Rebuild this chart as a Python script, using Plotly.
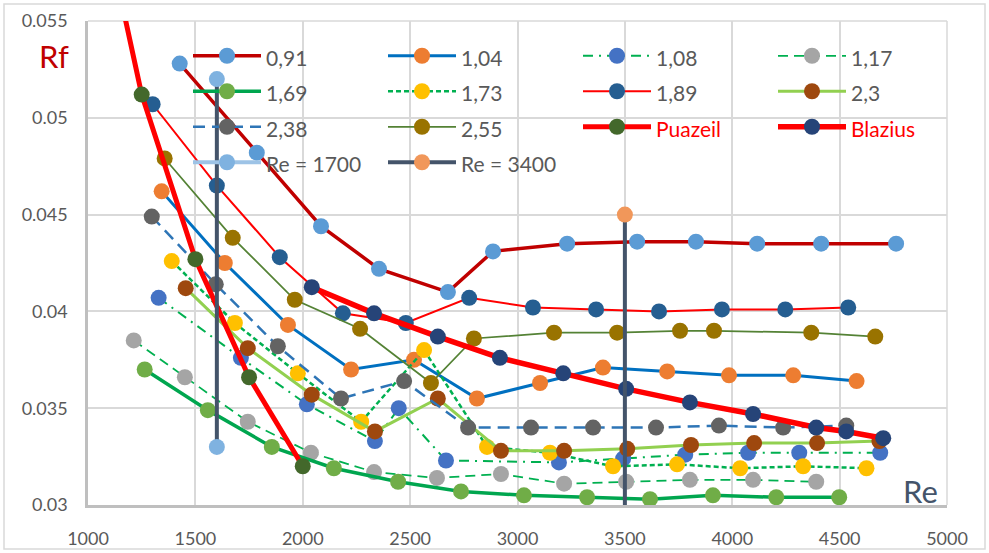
import plotly.graph_objects as go

# ---- data ----
re_091 = [1427, 1786, 2085, 2355, 2676, 2886, 3231, 3557, 3831, 4116, 4414, 4763]
rf_091 = [0.0528, 0.0482, 0.0444, 0.0422, 0.0410, 0.0431, 0.0435, 0.0436, 0.0436, 0.0435, 0.0435, 0.0435]

re_104 = [1343, 1637, 1931, 2225, 2518, 2811, 3105, 3398, 3697, 3985, 4284, 4579]
rf_104 = [0.0462, 0.0425, 0.0393, 0.0370, 0.0375, 0.0355, 0.0363, 0.0371, 0.0369, 0.0367, 0.0367, 0.0364]

re_108 = [1329, 1712, 2019, 2336, 2447, 2667, 3193, 3492, 3781, 4074, 4312, 4689]
rf_108 = [0.0407, 0.0376, 0.0352, 0.0333, 0.0350, 0.0323, 0.0322, 0.0324, 0.0326, 0.0327, 0.0327, 0.0327]

re_117 = [1213, 1451, 1744, 2038, 2332, 2625, 2923, 3217, 3506, 3803, 4097, 4391]
rf_117 = [0.0385, 0.0366, 0.0343, 0.0327, 0.0317, 0.0314, 0.0316, 0.0311, 0.0312, 0.0313, 0.0313, 0.0312]

re_169 = [1264, 1558, 1856, 2145, 2444, 2737, 3030, 3324, 3617, 3910, 4205, 4498]
rf_169 = [0.0370, 0.0349, 0.0330, 0.0319, 0.0312, 0.0307, 0.0305, 0.0304, 0.0303, 0.0305, 0.0304, 0.0304]

re_173 = [1390, 1684, 1977, 2272, 2565, 2858, 3151, 3445, 3743, 4037, 4330, 4625]
rf_173 = [0.0426, 0.0394, 0.0368, 0.0343, 0.0380, 0.0330, 0.0327, 0.0320, 0.0321, 0.0319, 0.0320, 0.0319]

re_189 = [1301, 1600, 1893, 2187, 2480, 2775, 3072, 3366, 3659, 3952, 4247, 4540]
rf_189 = [0.0507, 0.0465, 0.0428, 0.0399, 0.0394, 0.0407, 0.0402, 0.0401, 0.0400, 0.0401, 0.0401, 0.0402]

re_23 = [1455, 1744, 2042, 2336, 2629, 2923, 3217, 3511, 3808, 4102, 4395, 4685]
rf_23 = [0.0412, 0.0381, 0.0357, 0.0338, 0.0355, 0.0328, 0.0328, 0.0329, 0.0331, 0.0332, 0.0332, 0.0333]

re_238 = [1297, 1595, 1884, 2178, 2472, 2770, 3063, 3352, 3645, 3938, 4237, 4531]
rf_238 = [0.0449, 0.0414, 0.0382, 0.0355, 0.0364, 0.0340, 0.0340, 0.0340, 0.0340, 0.0341, 0.0340, 0.0341]

re_255 = [1357, 1674, 1963, 2267, 2597, 2797, 3170, 3464, 3757, 3915, 4368, 4666]
rf_255 = [0.0479, 0.0438, 0.0406, 0.0391, 0.0363, 0.0386, 0.0389, 0.0389, 0.0390, 0.0390, 0.0389, 0.0387]

re_puazeil = [1000, 1250, 1500, 1750, 2000]
rf_puazeil = [0.0640, 0.0512, 0.0427, 0.0366, 0.0320]

re_blazius = [2042, 2332, 2629, 2918, 3213, 3506, 3803, 4097, 4391, 4531, 4703]
rf_blazius = [0.04125, 0.0399, 0.0387, 0.0376, 0.0368, 0.0360, 0.0353, 0.0347, 0.0340, 0.0338, 0.03345]

re_1700 = [1600, 1600]
rf_1700 = [0.0520, 0.0330]

re_3400 = [3500, 3500]
rf_3400 = [0.0450, 0.0250]

x_ticks = [1000, 1500, 2000, 2500, 3000, 3500, 4000, 4500, 5000]
y_ticks = [0.03, 0.035, 0.04, 0.045, 0.05, 0.055]
y_tick_text = ["0.03", "0.035", "0.04", "0.045", "0.05", "0.055"]

# ---- styles ----
series = [
    ("0,91", re_091, rf_091, "#C00000", 3.5, "solid", "#5B9BD5", None),
    ("1,04", re_104, rf_104, "#0070C0", 3.0, "solid", "#ED7D31", None),
    ("1,08", re_108, rf_108, "#00B050", 2.0, "10px,6px,2px,6px", "#4472C4", None),
    ("1,17", re_117, rf_117, "#00B050", 1.75, "10px,6px", "#A5A5A5", None),
    ("1,69", re_169, rf_169, "#00A64F", 3.5, "solid", "#70AD47", None),
    ("1,73", re_173, rf_173, "#00B050", 2.5, "5px,3px", "#FFC000", None),
    ("1,89", re_189, rf_189, "#FF0000", 2.0, "solid", "#255E91", None),
    ("2,3", re_23, rf_23, "#92D050", 3.0, "solid", "#9E480E", None),
    ("2,38", re_238, rf_238, "#2E75B6", 2.5, "12px,7px", "#636363", None),
    ("2,55", re_255, rf_255, "#548235", 1.75, "solid", "#997300", None),
    ("Puazeil", re_puazeil, rf_puazeil, "#FF0000", 5.0, "solid", "#43682B", "#FF0000"),
    ("Blazius", re_blazius, rf_blazius, "#FF0000", 5.5, "solid", "#264478", "#FF0000"),
]

LEG_TEXT = 21


def leg_name(txt, color=None):
    style = "font-size:%dpx" % LEG_TEXT
    if color:
        style += ";color:%s" % color
    return "<span style='%s'>%s</span>" % (style, txt)


fig = go.Figure()
MS = 16
for name, xs, ys, lc, lw, dash, mc, tc in series:
    fig.add_trace(go.Scatter(
        x=xs, y=ys, name=leg_name(name, tc), mode="lines+markers",
        line=dict(color=lc, width=lw, dash=dash),
        marker=dict(color=mc, size=MS, line=dict(width=0)),
        hoverinfo="skip",
    ))

# Re = 1700 vertical line (drawn dark, legend sample light blue)
fig.add_trace(go.Scatter(
    x=re_1700, y=rf_1700, name=leg_name("Re = 1700"), mode="lines+markers", showlegend=False,
    line=dict(color="#44546A", width=4), marker=dict(color="#7FB2E0", size=MS, line=dict(width=0)),
    hoverinfo="skip",
))
fig.add_trace(go.Scatter(
    x=[None], y=[None], name=leg_name("Re = 1700"), mode="lines+markers",
    line=dict(color="#9DC3E6", width=4), marker=dict(color="#7FB2E0", size=MS, line=dict(width=0)),
))
fig.add_trace(go.Scatter(
    x=re_3400, y=rf_3400, name=leg_name("Re = 3400"), mode="lines+markers",
    line=dict(color="#44546A", width=4), marker=dict(color="#F1975A", size=MS, line=dict(width=0)),
    hoverinfo="skip",
))

FONT = "Lato, 'Open Sans', sans-serif"
L, R, T, B = 88, 42, 21, 48
W, H = 989, 553
pw, ph = W - L - R, H - T - B


def px_x(p):
    return (p - L) / pw


def px_y(p):
    return (H - B - p) / ph


fig.update_layout(
    width=W, height=H,
    margin=dict(l=L, r=R, t=T, b=B, pad=0, autoexpand=False),
    paper_bgcolor="white", plot_bgcolor="white",
    font=dict(family=FONT, size=18, color="#595959"),
    showlegend=True,
    legend=dict(
        orientation="h", x=px_x(188), y=px_y(33), xanchor="left", yanchor="top",
        bgcolor="rgba(0,0,0,0)", font=dict(family=FONT, size=25, color="#595959"),
        entrywidth=112, entrywidthmode="pixels", itemwidth=68,
        traceorder="normal", itemclick=False, itemdoubleclick=False,
    ),
    xaxis=dict(
        range=[1000, 5000], tickvals=x_ticks, ticktext=[str(v) for v in x_ticks],
        showgrid=True, gridcolor="#D9D9D9", gridwidth=1.5, automargin=False,
        showline=True, linecolor="#BFBFBF", linewidth=2.5,
        ticks="", ticklabelstandoff=16, zeroline=False,
        tickfont=dict(family=FONT, size=18, color="#595959"),
    ),
    yaxis=dict(
        range=[0.03, 0.055], tickvals=y_ticks, ticktext=y_tick_text,
        showgrid=True, gridcolor="#D9D9D9", gridwidth=1.5, automargin=False,
        showline=True, linecolor="#BFBFBF", linewidth=2.5,
        ticks="", ticklabelstandoff=14, zeroline=False,
        tickfont=dict(family=FONT, size=18, color="#595959"),
    ),
    annotations=[
        dict(text="Rf", xref="paper", yref="paper", x=px_x(54), y=px_y(56),
             xanchor="center", yanchor="middle", showarrow=False,
             font=dict(family=FONT, size=31, color="#C00000")),
        dict(text="Re", xref="paper", yref="paper", x=px_x(920), y=px_y(491),
             xanchor="center", yanchor="middle", showarrow=False,
             font=dict(family=FONT, size=31, color="#44546A")),
    ],
    shapes=[
        dict(type="rect", xref="paper", yref="paper", x0=px_x(4), x1=px_x(985),
             y0=px_y(549), y1=px_y(4), line=dict(color="#D9D9D9", width=1.5), layer="below"),
        dict(type="line", xref="paper", yref="paper", x0=1, x1=1, y0=0, y1=1,
             line=dict(color="#D9D9D9", width=1.5), layer="below"),
        dict(type="line", xref="paper", yref="paper", x0=0, x1=1, y0=1, y1=1,
             line=dict(color="#D9D9D9", width=1.5), layer="below"),
    ],
)

fig.write_html(
    "out.html",
    config={"displayModeBar": False},
    post_script="document.body.style.margin='0';document.body.style.overflow='hidden';",
)
